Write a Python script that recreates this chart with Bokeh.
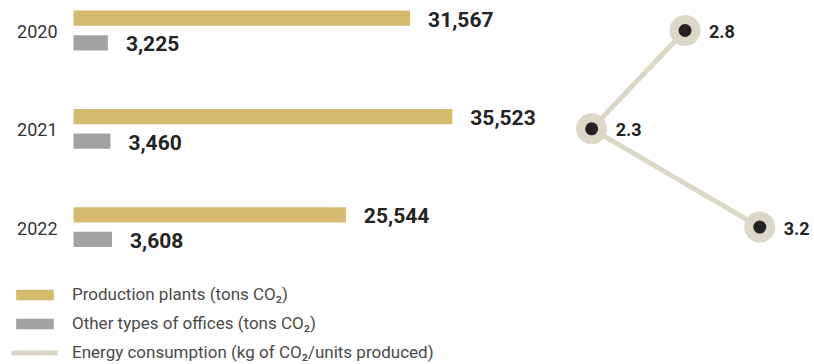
from bokeh.plotting import figure
from bokeh.models import ColumnDataSource, Range1d, Legend, LegendItem
from bokeh.transform import dodge
from bokeh.core.properties import value
from bokeh.embed import file_html
from bokeh.resources import INLINE

# ---- data ----
years = [2020, 2021, 2022]
year_labels = ["2020", "2021", "2022"]
production_plants = [31567, 35523, 25544]
other_offices = [3225, 3460, 3608]
energy_consumption = [2.8, 2.3, 3.2]

series_labels = [
    "Production plants (tons CO\u2082)",
    "Other types of offices (tons CO\u2082)",
    "Energy consumption (kg of CO\u2082/units produced)",
]

GOLD = "#d5b96f"
GRAY = "#a2a2a2"
BEIGE = "#dcd8c8"
DARK = "#232323"
FONT = value("Roboto")

src = ColumnDataSource(dict(
    year=years,
    year_lbl=year_labels,
    plants=production_plants,
    plants_lbl=[f"{v:,}" for v in production_plants],
    offices=other_offices,
    offices_lbl=[f"{v:,}" for v in other_offices],
    energy=energy_consumption,
    energy_lbl=[f"{v:.1f}" for v in energy_consumption],
))

p = figure(width=814, height=364, output_backend="svg", toolbar_location=None,
           x_axis_type=None, y_axis_type=None, min_border=0,
           x_range=Range1d(-6846, 69493), y_range=Range1d(2023.3977, 2019.6948))
p.extra_x_ranges = {"kg": Range1d(-0.8646, 3.4930)}
p.outline_line_color = None
p.xgrid.visible = False
p.ygrid.visible = False
p.background_fill_color = "white"
p.border_fill_color = "white"

r_gold = p.hbar(y=dodge("year", -0.125), left=0, right="plants", height=0.155,
                fill_color=GOLD, line_color=None, source=src)
r_gray = p.hbar(y=dodge("year", 0.125), left=0, right="offices", height=0.155,
                fill_color=GRAY, line_color=None, source=src)

p.text(x="plants", y=dodge("year", -0.125), text="plants_lbl", source=src,
       x_offset=18, y_offset=1, text_baseline="middle", text_align="left",
       text_font=FONT, text_font_size="21px", text_font_style="bold", text_color=DARK)
p.text(x="offices", y=dodge("year", 0.125), text="offices_lbl", source=src,
       x_offset=18, y_offset=1, text_baseline="middle", text_align="left",
       text_font=FONT, text_font_size="21px", text_font_style="bold", text_color=DARK)

# year labels
p.text(x=0, y="year", text="year_lbl", source=src, x_offset=-16, y_offset=1,
       text_baseline="middle", text_align="right",
       text_font=FONT, text_font_size="18px", text_color="#333333")

# energy line
r_line = p.line(x="energy", y="year", source=src, x_range_name="kg",
                line_color=BEIGE, line_width=5)
p.scatter(x="energy", y="year", source=src, x_range_name="kg", size=31,
          fill_color=BEIGE, line_color=None)
p.scatter(x="energy", y="year", source=src, x_range_name="kg", size=13,
          fill_color=DARK, line_color=None)
p.text(x="energy", y="year", text="energy_lbl", source=src, x_range_name="kg",
       x_offset=24, y_offset=1, text_baseline="middle", text_align="left",
       text_font=FONT, text_font_size="18px", text_font_style="bold", text_color=DARK)

legend = Legend(items=[
    LegendItem(label=series_labels[0], renderers=[r_gold]),
    LegendItem(label=series_labels[1], renderers=[r_gray]),
    LegendItem(label=series_labels[2], renderers=[r_line]),
], location=(11, 2), orientation="vertical")
legend.glyph_width = 47
legend.glyph_height = 13
legend.label_standoff = 14
legend.spacing = 9
legend.padding = 0
legend.margin = 0
legend.label_height = 20
legend.border_line_color = None
legend.background_fill_alpha = 0
legend.label_text_font = "Roboto"
legend.label_text_font_size = "17px"
legend.label_text_color = "#4a4a4a"
legend.label_text_baseline = "middle"
p.add_layout(legend, "center")

open("out.html", "w").write(file_html(p, INLINE))
